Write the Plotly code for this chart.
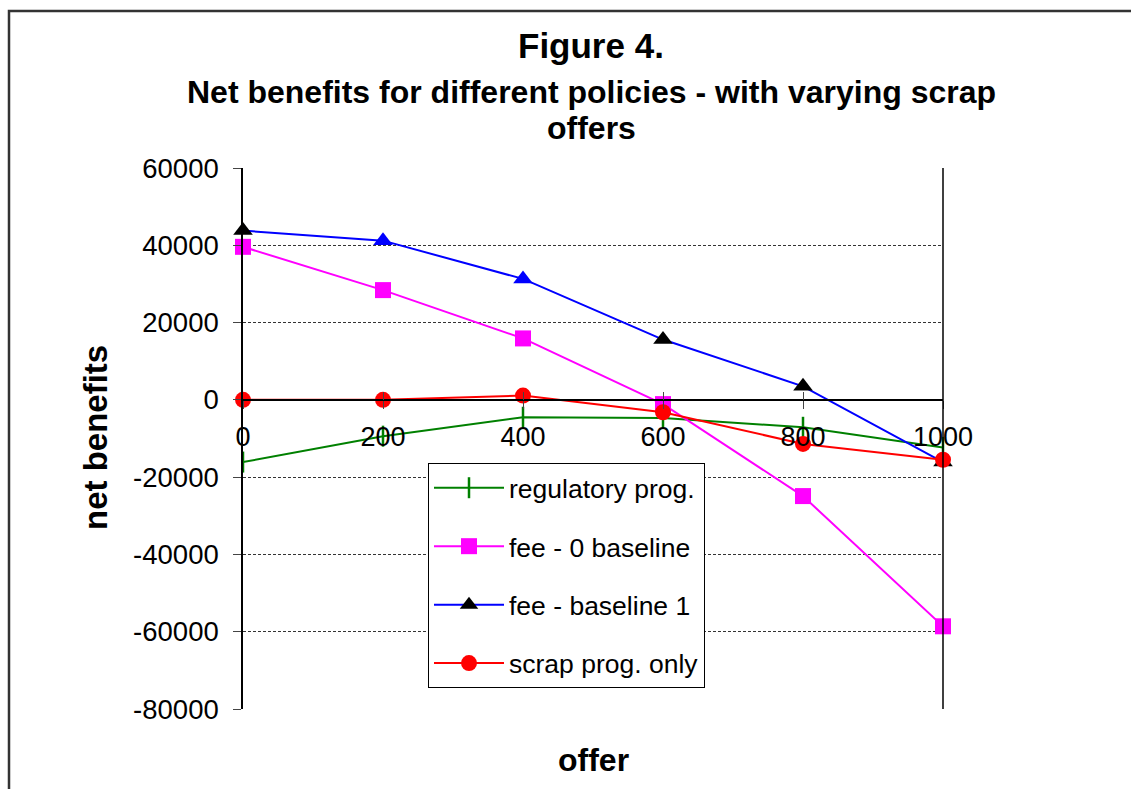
import plotly.graph_objects as go

# Scrap offer levels (x) and net benefits of each policy (y)
offer = [0, 200, 400, 600, 800, 1000]
regulatory_prog = [-16100, -9400, -4500, -4700, -7100, -12300]
fee_zero_baseline = [39600, 28400, 15900, -1100, -24900, -58600]
fee_baseline_one = [43800, 41200, 31300, 15600, 3500, -16100]
scrap_prog_only = [0, 0, 1100, -3200, -11400, -15500]

x_ticks = [0, 200, 400, 600, 800, 1000]
y_ticks = [60000, 40000, 20000, 0, -20000, -40000, -60000, -80000]
x_range = [0, 1000]
y_range = [-80000, 60000]

FONT = "Liberation Sans, Arial, sans-serif"
W, H = 1131, 789
ML, MR, MT, MB = 243, 188, 168, 80
PW, PH = W - ML - MR, H - MT - MB


def px_x(p):
    return (p - ML) / PW


def px_y(p):
    return (H - MB - p) / PH


fig = go.Figure()

fig.add_trace(go.Scatter(
    x=offer, y=regulatory_prog, name="regulatory prog.", legendgroup="a",
    mode="lines+markers", cliponaxis=False,
    line=dict(color="#008000", width=2),
    marker=dict(symbol="line-ns", size=15, line=dict(color="#008000", width=2.5)),
))
fig.add_trace(go.Scatter(
    x=offer, y=fee_zero_baseline, name="fee - 0 baseline", legendgroup="b",
    mode="lines+markers", cliponaxis=False,
    line=dict(color="#FF00FF", width=2),
    marker=dict(symbol="square", size=16, color="#FF00FF"),
))
fig.add_trace(go.Scatter(
    x=offer, y=fee_baseline_one, name="fee - baseline 1", legendgroup="c",
    mode="lines+markers", cliponaxis=False,
    line=dict(color="#0000FF", width=2),
    marker=dict(symbol="triangle-up", size=17,
                color=["#000000", "#0000FF", "#0000FF", "#000000", "#000000", "#000000"]),
))
fig.add_trace(go.Scatter(
    x=offer, y=scrap_prog_only, name="scrap prog. only", legendgroup="d",
    mode="lines+markers", cliponaxis=False,
    line=dict(color="#FF0000", width=2),
    marker=dict(symbol="circle", size=16, color="#FF0000"),
))

# horizontal axis crosses the value axis at zero
zero_pos = (0 - y_range[0]) / (y_range[1] - y_range[0])

fig.update_layout(
    width=W, height=H, autosize=False,
    margin=dict(l=ML, r=MR, t=MT, b=MB, pad=0),
    paper_bgcolor="white", plot_bgcolor="white",
    font=dict(family=FONT, color="black", size=26),
    showlegend=True,
    legend=dict(
        x=px_x(428), y=px_y(463), xanchor="left", yanchor="top",
        bgcolor="white", bordercolor="black", borderwidth=1,
        font=dict(size=26.5, family=FONT), traceorder="grouped",
        tracegroupgap=21, itemwidth=70,
    ),
    xaxis=dict(
        range=x_range, tickvals=x_ticks, ticktext=[str(v) for v in x_ticks],
        showgrid=False, zeroline=False,
        anchor="free", position=zero_pos,
        showline=True, linecolor="black", linewidth=1.5,
        ticks="outside", ticklen=8, tickcolor="#444", tickwidth=1,
        tickfont=dict(size=27, family=FONT),
        ticklabelstandoff=5,
    ),
    xaxis2=dict(
        range=x_range, tickvals=x_ticks, overlaying="x", matches="x",
        anchor="free", position=zero_pos, side="bottom",
        showgrid=False, zeroline=False, showline=False,
        ticks="inside", ticklen=8, tickcolor="#444", tickwidth=1,
        showticklabels=False,
    ),
    yaxis=dict(
        range=y_range, tickvals=y_ticks, ticktext=[str(v) for v in y_ticks],
        showgrid=True, gridcolor="#333", gridwidth=1, griddash="3px,2px",
        zeroline=False,
        showline=True, linecolor="black", linewidth=1.5,
        ticks="outside", ticklen=8, tickcolor="#444", tickwidth=1,
        tickfont=dict(size=27.5, family=FONT),
        ticklabelstandoff=9,
    ),
)

# dummy trace so the overlaying tick axis is rendered
fig.add_trace(go.Scatter(x=[None], y=[None], xaxis="x2", showlegend=False,
                         hoverinfo="skip"))

fig.add_annotation(text="<b>Figure 4.</b>", xref="paper", yref="paper",
                   x=px_x(591), y=px_y(45), showarrow=False,
                   xanchor="center", yanchor="middle",
                   font=dict(size=35, family=FONT))
fig.add_annotation(text="<b>Net benefits for different policies - with varying scrap</b>",
                   xref="paper", yref="paper", x=px_x(591), y=px_y(92),
                   showarrow=False, xanchor="center", yanchor="middle",
                   font=dict(size=32, family=FONT))
fig.add_annotation(text="<b>offers</b>", xref="paper", yref="paper",
                   x=px_x(591), y=px_y(128), showarrow=False,
                   xanchor="center", yanchor="middle",
                   font=dict(size=32, family=FONT))
fig.add_annotation(text="<b>net benefits</b>", xref="paper", yref="paper",
                   x=px_x(95), y=px_y(438), showarrow=False, textangle=-90,
                   xanchor="center", yanchor="middle",
                   font=dict(size=33, family=FONT))
fig.add_annotation(text="<b>offer</b>", xref="paper", yref="paper",
                   x=px_x(593), y=px_y(760), showarrow=False,
                   xanchor="center", yanchor="middle",
                   font=dict(size=32, family=FONT))

# right edge of the plot area
fig.add_shape(type="line", xref="paper", yref="paper", x0=1, x1=1, y0=0, y1=1,
              line=dict(color="black", width=1.5))
# chart frame
fig.add_shape(type="rect", xref="paper", yref="paper",
              x0=px_x(9), x1=px_x(W + 10), y0=px_y(11), y1=px_y(H + 10),
              line=dict(color="#333", width=2.5), layer="above")

fig.write_html("out.html")
